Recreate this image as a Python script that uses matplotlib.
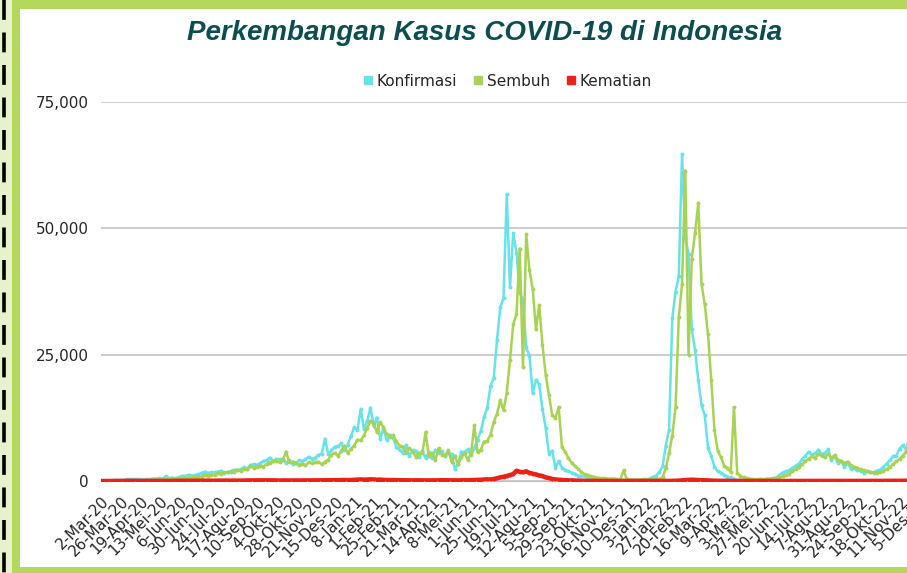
import numpy as np
import matplotlib
matplotlib.use('Agg')
import matplotlib.pyplot as plt
import matplotlib.transforms as mtransforms
from matplotlib.lines import Line2D
from matplotlib.patches import Rectangle

# data: daily cases, one value every 4 days from 2-Mar-20
START = np.datetime64('2020-03-02')
STEP_DAYS = 4

konfirmasi = [
    2, 0, 25, 60, 100, 110, 150, 180, 330, 320,
    400, 380, 330, 280, 350, 370, 430, 480, 530, 490,
    970, 520, 680, 560, 700, 1040, 960, 1240, 1040, 1180,
    1290, 1610, 1850, 1520, 1750, 1690, 1870, 2040, 1520, 1810,
    1890, 2270, 2090, 2310, 2750, 2320, 3140, 3300, 3170, 3510,
    3890, 4120, 4630, 4000, 4370, 4310, 4290, 3600, 4080, 3370,
    3560, 4060, 3880, 4260, 4790, 4360, 4630, 5130, 5420, 8370,
    5290, 6060, 6770, 6850, 7450, 6050, 7200, 8850, 10620, 10050,
    14220, 10360, 11790, 14520, 10950, 12540, 8380, 10380, 8050, 9100,
    8490, 6680, 6110, 5560, 7120, 4920, 6070, 5940, 4750, 6000,
    4550, 5660, 4530, 6180, 5510, 5880, 4880, 5600, 5330, 2380,
    3450, 5800, 5770, 6240, 5050, 6600, 8160, 9870, 12600, 14530,
    18870, 20470, 27910, 34380, 36200, 56760, 38320, 49070, 45200, 37280,
    35870, 26420, 24710, 17380, 20000, 19110, 14220, 10530, 5400, 5990,
    2580, 3950, 2660, 2230, 1950, 1620, 1440, 1060, 920, 910,
    620, 600, 430, 520, 460, 400, 340, 420, 380, 180,
    290, 200, 270, 190, 210, 190, 220, 250, 300, 480,
    800, 1050, 1750, 2930, 7010, 10190, 32210, 37490, 40490, 64720,
    48000, 45000, 30000, 26000, 20000, 15000, 13000, 6500, 5000, 2800,
    1900, 1640, 1200, 880, 700, 440, 200, 180, 280, 220,
    340, 280, 240, 300, 280, 420, 460, 590, 660, 1240,
    1680, 1910, 2100, 2560, 3040, 3380, 4330, 4990, 5780, 5170,
    5500, 6150, 5290, 5520, 6270, 4140, 4810, 3590, 3910, 2760,
    3500, 2440, 2500, 2080, 1960, 1600, 1950, 1720, 1580, 2030,
    2240, 2780, 3390, 4100, 4870, 4990, 6370, 7050, 6230, 8490,
    5600, 6900, 5000, 4800, 3800, 2400, 2300, 1800, 1400, 1200, 700,
]

sembuh = [
    0, 0, 0, 2, 5, 10, 15, 20, 30, 40,
    50, 60, 80, 110, 150, 150, 180, 200, 220, 250,
    270, 290, 350, 340, 450, 540, 600, 520, 700, 720,
    880, 860, 1200, 1060, 1200, 1160, 1580, 1400, 1700, 1760,
    1810, 1850, 2260, 2010, 2380, 2370, 2880, 2620, 2770, 3060,
    2800, 3380, 3650, 3930, 3860, 3680, 4090, 5800, 3780, 3810,
    3640, 3230, 3400, 3100, 3690, 3530, 3710, 3820, 3300, 3800,
    4240, 5210, 5520, 5010, 5940, 6960, 5510, 6370, 7020, 8160,
    8030, 9020, 10500, 11860, 11300, 9690, 11620, 10700, 9210, 8700,
    9080, 7820, 7000, 6800, 5580, 6500, 5830, 4780, 5600, 5500,
    9700, 4900, 5500, 4200, 6500, 5200, 5050, 6100, 3800, 4900,
    3300, 4700, 5500, 4200, 5400, 11000, 5700, 6200, 7800, 7900,
    9200, 11700, 13300, 16000, 14000, 17500, 24000, 31000, 33000, 46000,
    22500, 48800, 41700, 38000, 30000, 34800, 27000, 21000, 17000, 13000,
    12500, 14600, 6700, 5800, 4500, 3600, 3000, 2400, 1800, 1300,
    1200, 900, 800, 650, 550, 500, 450, 400, 450, 350,
    300, 2100, 300, 260, 280, 250, 220, 300, 260, 280,
    300, 330, 400, 700, 2500, 5500, 9000, 14600, 32400, 39000,
    61400, 25000, 44000, 49000, 55000, 39000, 35000, 29000, 20000, 10000,
    6000, 4700, 3000, 2500, 1800, 14600, 1500, 1000, 700, 500,
    400, 380, 300, 350, 300, 330, 380, 420, 500, 700,
    900, 1200, 1400, 1900, 2300, 2700, 3300, 3900, 4400, 4900,
    4500, 5300, 5000, 4700, 5400, 4600, 5100, 4200, 3900, 3600,
    3800, 3100, 2800, 2600, 2300, 2100, 1900, 1800, 1700, 1600,
    1700, 2000, 2300, 2800, 3300, 3900, 4300, 5000, 5800, 6300,
    6800, 6200, 6000, 5500, 5000, 4200, 3500, 2800, 2200, 1800, 1500,
]

kematian = [
    0, 0, 2, 5, 10, 12, 15, 20, 40, 30,
    25, 30, 20, 25, 20, 15, 20, 25, 20, 30,
    30, 25, 40, 35, 50, 40, 45, 50, 55, 60,
    50, 70, 65, 60, 70, 60, 80, 75, 70, 65,
    80, 75, 90, 85, 95, 100, 110, 105, 120, 115,
    120, 130, 110, 120, 100, 95, 110, 100, 90, 100,
    100, 95, 100, 110, 100, 110, 120, 130, 140, 150,
    150, 160, 170, 150, 180, 200, 180, 200, 250, 280,
    300, 270, 290, 340, 300, 250, 280, 220, 200, 180,
    190, 170, 150, 150, 140, 130, 120, 140, 130, 120,
    130, 110, 130, 120, 140, 160, 150, 130, 120, 110,
    120, 150, 170, 160, 180, 200, 210, 250, 300, 330,
    300, 420, 540, 730, 850, 1000, 1200, 1380, 2050, 1800,
    1750, 1900, 1600, 1450, 1300, 1100, 1000, 700, 600, 400,
    300, 250, 200, 150, 120, 100, 80, 60, 50, 40,
    35, 30, 25, 20, 15, 15, 12, 10, 10, 8,
    8, 10, 7, 9, 8, 10, 9, 8, 7, 6,
    7, 8, 10, 12, 15, 20, 30, 50, 80, 120,
    180, 230, 260, 220, 200, 160, 150, 120, 80, 60,
    40, 35, 30, 25, 20, 15, 12, 10, 8, 6,
    5, 6, 7, 5, 6, 8, 7, 6, 8, 10,
    10, 12, 15, 18, 20, 22, 25, 30, 28, 32,
    30, 35, 33, 30, 28, 26, 24, 22, 20, 18,
    20, 18, 16, 15, 14, 15, 16, 18, 17, 20,
    22, 24, 28, 30, 35, 40, 45, 50, 55, 60,
    55, 52, 50, 45, 40, 35, 30, 28, 25, 22, 20,
]

TICK_STEP_DAYS = 24
tick_labels = [
    '2-Mar-20', '26-Mar-20', '19-Apr-20', '13-Mei-20', '6-Jun-20', '30-Jun-20',
    '24-Jul-20', '17-Agu-20', '10-Sep-20', '4-Okt-20', '28-Okt-20', '21-Nov-20',
    '15-Des-20', '8-Jan-21', '1-Feb-21', '25-Feb-21', '21-Mar-21', '14-Apr-21',
    '8-Mei-21', '1-Jun-21', '25-Jun-21', '19-Jul-21', '12-Agu-21', '5-Sep-21',
    '29-Sep-21', '23-Okt-21', '16-Nov-21', '10-Des-21', '3-Jan-22', '27-Jan-22',
    '20-Feb-22', '16-Mar-22', '9-Apr-22', '3-Mei-22', '27-Mei-22', '20-Jun-22',
    '14-Jul-22', '7-Agu-22', '31-Agu-22', '24-Sep-22', '18-Okt-22', '11-Nov-22',
    '5-Des-22',
]
y_ticks = [0, 25000, 50000, 75000]

series = [
    ('Konfirmasi', konfirmasi, '#66e2e8'),
    ('Sembuh', sembuh, '#a8d253'),
    ('Kematian', kematian, '#ec2016'),
]

W, H = 907, 573
fig = plt.figure(figsize=(W / 100, H / 100), dpi=100)
fig.patch.set_facecolor('white')


def px_rect(x, y, w, h, color):
    # rectangle given in pixels from the top-left corner
    fig.add_artist(Rectangle((x / W, 1 - (y + h) / H), w / W, h / H,
                             transform=fig.transFigure, color=color, lw=0, zorder=0))


# frame decoration
px_rect(0, 0, 12, H, '#e6f2cc')
px_rect(12, 0, 8, H, '#b3d85c')
px_rect(12, 0, W - 12, 9, '#b3d85c')
px_rect(12, 567, W - 12, 6, '#b3d85c')
fig.add_artist(Line2D([3.5 / W, 3.5 / W], [1, 0], transform=fig.transFigure,
                      color='black', lw=2.6, dashes=(5.5, 3.5)))

px_per_day = 0.8115
n_days = 1045
ax = fig.add_axes([101 / W, (H - 481) / H, n_days * px_per_day / W, (481 - 102) / H])
ax.set_facecolor('none')

dates = START + np.arange(len(konfirmasi)) * np.timedelta64(STEP_DAYS, 'D')
for name, values, color in series:
    lw = 3.2 if name == 'Kematian' else 1.8
    ax.plot(dates, values, color=color, lw=lw, marker='o', markersize=2.8,
            markeredgewidth=0, solid_joinstyle='round', label=name, zorder=3)

ax.set_xlim(START, START + np.timedelta64(n_days, 'D'))
ax.set_ylim(0, 75000)
ax.set_yticks(y_ticks)
ax.set_yticklabels([f'{v:,}' for v in y_ticks])
ax.yaxis.grid(True, color='#bfbfbf', lw=1.1)
ax.set_axisbelow(True)

tick_dates = START + np.arange(len(tick_labels)) * np.timedelta64(TICK_STEP_DAYS, 'D')
ax.set_xticks(tick_dates)
ax.set_xticklabels(tick_labels, rotation=45, ha='right', va='center',
                   rotation_mode='anchor')
ax.tick_params(axis='both', length=0, labelsize=11, labelcolor='#262626')
ax.tick_params(axis='y', pad=9)
ax.tick_params(axis='x', pad=13)
shift = mtransforms.ScaledTranslation(6 / 100, 0, fig.dpi_scale_trans)
for lab in ax.get_xticklabels():
    lab.set_transform(lab.get_transform() + shift)

for side in ['top', 'right', 'left']:
    ax.spines[side].set_visible(False)
ax.spines['bottom'].set_color('#bfbfbf')

fig.text(485 / W, 1 - 33 / H, 'Perkembangan Kasus COVID-19 di Indonesia',
         ha='center', va='center', fontsize=20, fontstyle='italic',
         fontweight='bold', family='Liberation Sans', color='#0c4d50')

handles = [Line2D([], [], color=c, marker='s', ls='none', markersize=5.5)
           for _, _, c in series]
fig.legend(handles, [s[0] for s in series], loc='center',
           bbox_to_anchor=(508 / W, 1 - 81 / H), ncol=3, frameon=False,
           fontsize=11, handlelength=0.5, handletextpad=0.35, columnspacing=1.1,
           labelcolor='#262626')

fig.savefig('out.png', dpi=100)
